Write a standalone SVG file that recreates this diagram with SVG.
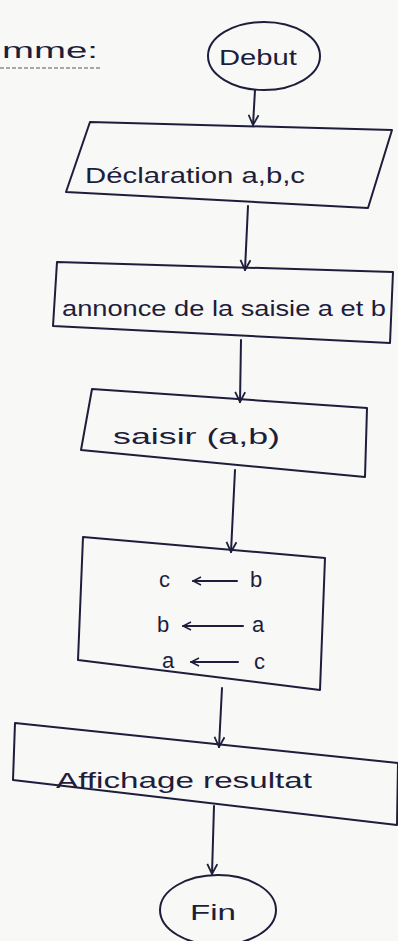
<svg xmlns="http://www.w3.org/2000/svg" width="398" height="941" viewBox="0 0 398 941">
<style>
.s{fill:none;stroke:#1d1d3c;stroke-width:2;stroke-linejoin:round;stroke-linecap:round}
.t{font-family:"Liberation Sans",Arial,sans-serif;fill:#1d1d3c;font-size:22px}
</style>
<defs>
<marker id="ah" viewBox="0 0 12 12" refX="11" refY="6" markerWidth="12" markerHeight="12" markerUnits="userSpaceOnUse" orient="auto">
<path d="M1,1 L11,6 L1,11" fill="none" stroke="#1d1d3c" stroke-width="1.8"/>
</marker>
<marker id="sa" viewBox="0 0 10 10" refX="9" refY="5" markerWidth="10" markerHeight="10" markerUnits="userSpaceOnUse" orient="auto">
<path d="M1,1 L9,5 L1,9" fill="none" stroke="#1d1d3c" stroke-width="1.5"/>
</marker>
</defs>
<rect width="398" height="941" fill="#f8f8f6"/>
<g id="titre">
<text class="t" x="2" y="58" font-size="27" textLength="96" lengthAdjust="spacingAndGlyphs">mme:</text>
<line x1="0" y1="68" x2="100" y2="68" stroke="#8a8a9a" stroke-width="1.5" stroke-dasharray="4,2"/>
</g>
<g id="connecteurs" class="s">
<line x1="255" y1="90" x2="253" y2="125" marker-end="url(#ah)"/>
<line x1="248" y1="206" x2="245" y2="270" marker-end="url(#ah)"/>
<line x1="241" y1="340" x2="240" y2="402" marker-end="url(#ah)"/>
<line x1="235" y1="470" x2="231" y2="552" marker-end="url(#ah)"/>
<line x1="222" y1="688" x2="219" y2="747" marker-end="url(#ah)"/>
<line x1="214" y1="806" x2="212" y2="874" marker-end="url(#ah)"/>
</g>
<g id="debut">
<ellipse class="s" cx="264" cy="56" rx="56" ry="34"/>
<text class="t" x="219" y="65" font-size="25" textLength="78" lengthAdjust="spacingAndGlyphs">Debut</text>
</g>
<g id="declaration">
<polygon class="s" points="90,122 392,130 368,208 66,192"/>
<text class="t" x="85" y="183" font-size="24" textLength="220" lengthAdjust="spacingAndGlyphs">Déclaration  a,b,c</text>
</g>
<g id="annonce">
<polygon class="s" points="57,262 393,272 390,343 53,326"/>
<text class="t" x="62" y="316" font-size="24" textLength="324" lengthAdjust="spacingAndGlyphs">annonce de la saisie a et b</text>
</g>
<g id="saisir">
<polygon class="s" points="92,389 367,408 365,477 81,450"/>
<text class="t" x="113" y="444" font-size="26" textLength="167" lengthAdjust="spacingAndGlyphs">saisir (a,b)</text>
</g>
<g id="permutation">
<polygon class="s" points="83,537 325,558 320,690 78,660"/>
<text class="t" x="159" y="587" font-size="23">c</text>
<line class="s" x1="237" y1="581" x2="193" y2="581" stroke-width="1.6" marker-end="url(#sa)"/>
<text class="t" x="250" y="587" font-size="23">b</text>
<text class="t" x="157" y="632" font-size="23">b</text>
<line class="s" x1="243" y1="626" x2="183" y2="626" stroke-width="1.6" marker-end="url(#sa)"/>
<text class="t" x="252" y="632" font-size="23">a</text>
<text class="t" x="162" y="668" font-size="23">a</text>
<line class="s" x1="238" y1="662" x2="191" y2="662" stroke-width="1.6" marker-end="url(#sa)"/>
<text class="t" x="254" y="669" font-size="23">c</text>
</g>
<g id="affichage">
<polygon class="s" points="15,723 398,763 397,825 13,780"/>
<text class="t" x="56" y="788" font-size="27" textLength="256" lengthAdjust="spacingAndGlyphs">Affichage resultat</text>
</g>
<g id="fin">
<ellipse class="s" cx="218" cy="910" rx="58" ry="35"/>
<text class="t" x="190" y="920" font-size="28" textLength="46" lengthAdjust="spacingAndGlyphs">Fin</text>
</g>
</svg>
